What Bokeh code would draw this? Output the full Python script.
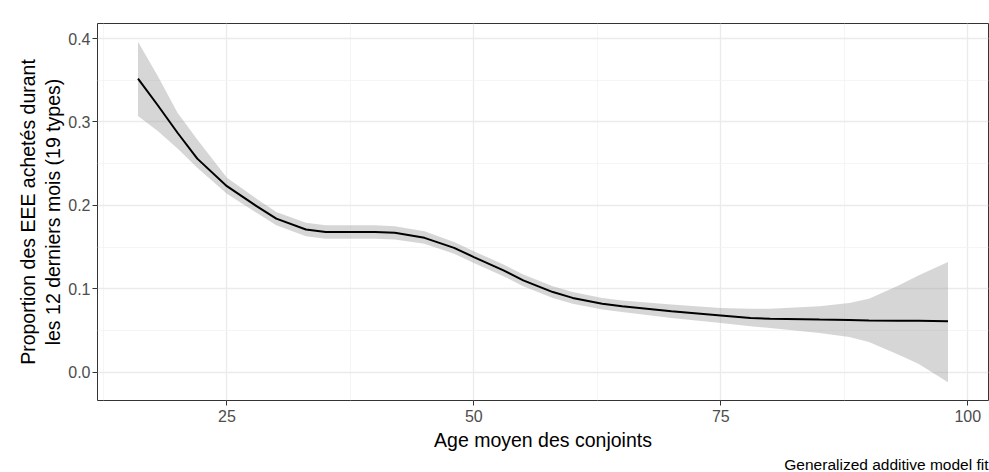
from bokeh.plotting import figure
from bokeh.models import Range1d, FixedTicker, Title, NumeralTickFormatter
from bokeh.embed import file_html
from bokeh.resources import INLINE

# Data (GAM fit with confidence band)
age = [16, 18, 20, 22, 25, 28, 30, 33, 35, 38, 40, 42, 45, 48, 50, 53, 55,
       58, 60, 63, 65, 70, 75, 78, 80, 85, 88, 90, 93, 95, 98]
fit = [0.352, 0.320, 0.287, 0.256, 0.223, 0.199, 0.184, 0.171, 0.168, 0.168,
       0.168, 0.167, 0.161, 0.149, 0.138, 0.122, 0.110, 0.096, 0.089, 0.082,
       0.079, 0.073, 0.068, 0.065, 0.064, 0.063, 0.0625, 0.062, 0.0615, 0.0615, 0.061]
lower = [0.307, 0.289, 0.268, 0.245, 0.214, 0.191, 0.176, 0.163, 0.160, 0.160,
         0.160, 0.159, 0.154, 0.142, 0.131, 0.115, 0.103, 0.089, 0.082, 0.075,
         0.072, 0.065, 0.059, 0.055, 0.053, 0.047, 0.042, 0.036, 0.021, 0.010, -0.012]
upper = [0.396, 0.355, 0.311, 0.279, 0.233, 0.208, 0.192, 0.179, 0.176, 0.176,
         0.176, 0.175, 0.169, 0.156, 0.145, 0.129, 0.117, 0.103, 0.096, 0.089,
         0.086, 0.081, 0.077, 0.076, 0.076, 0.079, 0.083, 0.088, 0.104, 0.116, 0.132]

x_ticks = [25, 50, 75, 100]
x_minor = [12.5, 37.5, 62.5, 87.5]
y_ticks = [0.0, 0.1, 0.2, 0.3, 0.4]
y_minor = [0.05, 0.15, 0.25, 0.35]

x_title = "Age moyen des conjoints"
y_title_line1 = "Proportion des EEE achetés durant"
y_title_line2 = "les 12 derniers mois (19 types)"
caption = "Generalized additive model fit"

FONT = "Liberation Sans"

p = figure(width=989, height=472, output_backend="svg", toolbar_location=None,
           x_range=Range1d(11.9, 102.1), y_range=Range1d(-0.034, 0.418),
           min_border_left=97, min_border_right=1, min_border_top=23,
           min_border_bottom=10)

p.background_fill_color = "white"
p.border_fill_color = "white"
p.outline_line_color = "#333333"
p.outline_line_width = 1

# grids
p.xgrid.ticker = FixedTicker(ticks=x_ticks, minor_ticks=x_minor)
p.ygrid.ticker = FixedTicker(ticks=y_ticks, minor_ticks=y_minor)
for g in (p.xgrid, p.ygrid):
    g.grid_line_color = "#EBEBEB"
    g.grid_line_width = 1.3
    g.minor_grid_line_color = "#F2F2F2"
    g.minor_grid_line_width = 0.8

# axes
p.xaxis.ticker = FixedTicker(ticks=x_ticks)
p.yaxis.ticker = FixedTicker(ticks=y_ticks)
p.yaxis.formatter = NumeralTickFormatter(format="0.0")
for ax in (p.xaxis, p.yaxis):
    ax.axis_line_color = None
    ax.major_tick_line_color = "#333333"
    ax.major_tick_out = 5
    ax.major_tick_in = 0
    ax.minor_tick_line_color = None
    ax.major_label_text_font = FONT
    ax.major_label_text_font_size = "16px"
    ax.major_label_text_color = "#4D4D4D"
    ax.axis_label_text_font = FONT
    ax.axis_label_text_font_size = "19.5px"
    ax.axis_label_text_font_style = "normal"
    ax.axis_label_text_color = "black"
p.xaxis.axis_label = x_title
p.xaxis.major_label_standoff = 4
p.xaxis.axis_label_standoff = 4
p.yaxis.major_label_standoff = 2

# two-line y-axis title as stacked side titles (nearest the axis first)
for txt, so in ((y_title_line2, 3), (y_title_line1, 0)):
    p.add_layout(Title(text=txt, align="center", text_font=FONT,
                       text_font_size="19.5px", text_font_style="normal",
                       text_color="black", standoff=so), "left")

# band and fit
p.varea(x=age, y1=lower, y2=upper, fill_color="#999999", fill_alpha=0.4)
p.line(x=age, y=fit, line_color="black", line_width=2)

cap = Title(text=caption, align="right", text_font=FONT, text_font_size="15.5px",
            text_font_style="normal", text_color="black", standoff=0)
p.add_layout(cap, "below")

open("out.html", "w").write(file_html(p, INLINE))
